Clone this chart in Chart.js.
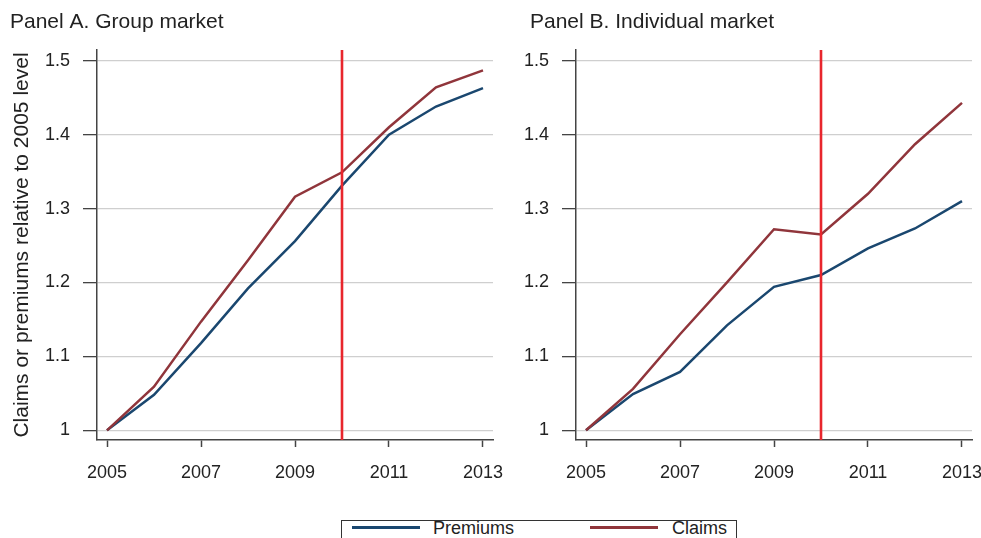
<!DOCTYPE html>
<html>
<head>
<meta charset="utf-8">
<script src="https://cdn.jsdelivr.net/npm/chart.js@4.4.1/dist/chart.umd.min.js"></script>
<style>
  html, body { margin: 0; padding: 0; background: #ffffff; overflow: hidden; }
  body { width: 981px; height: 538px; position: relative; font-family: "Liberation Sans", Arial, Helvetica, sans-serif; }
  canvas { position: absolute; top: 0; }
  #panelA { left: 0; }
  #panelB { left: 490px; }
  .legend {
    position: absolute; left: 341px; top: 520px; width: 394px; height: 30px;
    border: 1.5px solid #333333; background: #fff;
  }
  .legend .item { position: absolute; top: 0; height: 16px; font-size: 18px; color: #222; }
  .legend .swatch { position: absolute; top: 5px; width: 68px; height: 2.6px; }
  .legend .label { position: absolute; top: -3px; white-space: nowrap; }
</style>
</head>
<body>
<canvas id="panelA" width="530" height="500"></canvas>
<canvas id="panelB" width="491" height="500"></canvas>
<div class="legend">
  <div class="item" style="left:10px"><div class="swatch" style="background:#1a476f"></div><div class="label" style="left:81px">Premiums</div></div>
  <div class="item" style="left:248px"><div class="swatch" style="background:#90353b"></div><div class="label" style="left:82px">Claims</div></div>
</div>
<script>
// Claims and premiums, indexed to their 2005 level
const years = [2005, 2006, 2007, 2008, 2009, 2010, 2011, 2012, 2013];
const groupPremiums = [1.000, 1.048, 1.118, 1.192, 1.256, 1.331, 1.400, 1.438, 1.463];
const groupClaims = [1.000, 1.059, 1.147, 1.230, 1.316, 1.349, 1.410, 1.464, 1.487];
const individualPremiums = [1.000, 1.049, 1.079, 1.142, 1.194, 1.210, 1.246, 1.273, 1.310];
const individualClaims = [1.000, 1.056, 1.130, 1.200, 1.272, 1.265, 1.320, 1.387, 1.443];

// Axis ticks and the marker year for the vertical rule
const xTickYears = [2005, 2007, 2009, 2011, 2013];
const yTicks = [1.0, 1.1, 1.2, 1.3, 1.4, 1.5];
const markerYear = [2010];

const seriesNames = ['Premiums', 'Claims'];
const panelTitles = ['Panel A. Group market', 'Panel B. Individual market'];
const yAxisTitle = 'Claims or premiums relative to 2005 level';

const FONT = '"Liberation Sans", Arial, Helvetica, sans-serif';
const TEXT = '#222222';
const AXIS = '#444444';
const GRID = '#cfcfcf';
const BLUE = '#1a476f';
const MAROON = '#90353b';
const RED = '#e8262d';

const X_MIN = 2004.7872, X_MAX = 2013.2128;
const Y_MIN = 0.98688, Y_MAX = 1.51448;

function panelTitlePlugin(text, x) {
  return {
    id: 'panelTitle',
    afterDraw(chart) {
      const ctx = chart.ctx;
      ctx.save();
      ctx.font = '21px ' + FONT;
      ctx.fillStyle = TEXT;
      ctx.textBaseline = 'alphabetic';
      ctx.textAlign = 'left';
      ctx.fillText(text, x, 28);
      ctx.restore();
    }
  };
}

function makePanel(id, premiums, claims, title, titleX, yAxisWidth, rightPad, showYTitle) {
  const toPoints = arr => years.map((yr, i) => ({ x: yr, y: arr[i] }));
  return new Chart(document.getElementById(id), {
    type: 'line',
    data: {
      datasets: [
        {
          label: 'policy',
          data: [{ x: markerYear[0], y: Y_MIN }, { x: markerYear[0], y: Y_MAX }],
          borderColor: RED, borderWidth: 2.6, pointRadius: 0, order: 0
        },
        {
          label: seriesNames[1], data: toPoints(claims),
          borderColor: MAROON, borderWidth: 2.5, pointRadius: 0, tension: 0, order: 1
        },
        {
          label: seriesNames[0], data: toPoints(premiums),
          borderColor: BLUE, borderWidth: 2.5, pointRadius: 0, tension: 0, order: 2
        }
      ]
    },
    options: {
      responsive: false,
      animation: false,
      devicePixelRatio: 1,
      layout: { padding: { top: 50, left: 0, right: rightPad, bottom: 0 } },
      plugins: { legend: { display: false }, tooltip: { enabled: false }, title: { display: false } },
      scales: {
        x: {
          type: 'linear', min: X_MIN, max: X_MAX,
          afterBuildTicks: axis => { axis.ticks = xTickYears.map(v => ({ value: v })); },
          afterFit: axis => { axis.height = 60; axis.paddingLeft = 0; axis.paddingRight = 0; },
          grid: { drawOnChartArea: false, drawTicks: true, tickLength: 7, tickColor: AXIS, tickWidth: 1.5 },
          border: { display: true, color: AXIS, width: 1.5 },
          ticks: {
            autoSkip: false, maxRotation: 0, padding: 15, color: TEXT,
            font: { family: FONT, size: 18 },
            callback: v => String(v)
          }
        },
        y: {
          type: 'linear', min: Y_MIN, max: Y_MAX,
          afterBuildTicks: axis => { axis.ticks = yTicks.map(v => ({ value: v })); },
          afterFit: axis => { axis.width = yAxisWidth; axis.paddingTop = 0; axis.paddingBottom = 0; },
          grid: { color: GRID, lineWidth: 1.3, drawTicks: true, tickLength: 14, tickColor: AXIS, tickWidth: 1.3 },
          border: { display: true, color: AXIS, width: 1.5 },
          ticks: {
            autoSkip: false, padding: 13, color: TEXT,
            font: { family: FONT, size: 18 },
            callback: v => String(Math.round(v * 10) / 10)
          },
          title: {
            display: showYTitle, text: yAxisTitle, color: TEXT,
            font: { family: FONT, size: 21 }, padding: { top: 10, bottom: 0 }
          }
        }
      }
    },
    plugins: [panelTitlePlugin(title, titleX)]
  });
}

makePanel('panelA', groupPremiums, groupClaims, panelTitles[0], 10, 97, 530 - 493, true);
makePanel('panelB', individualPremiums, individualClaims, panelTitles[1], 40, 86, 491 - 482, false);
</script>
</body>
</html>
